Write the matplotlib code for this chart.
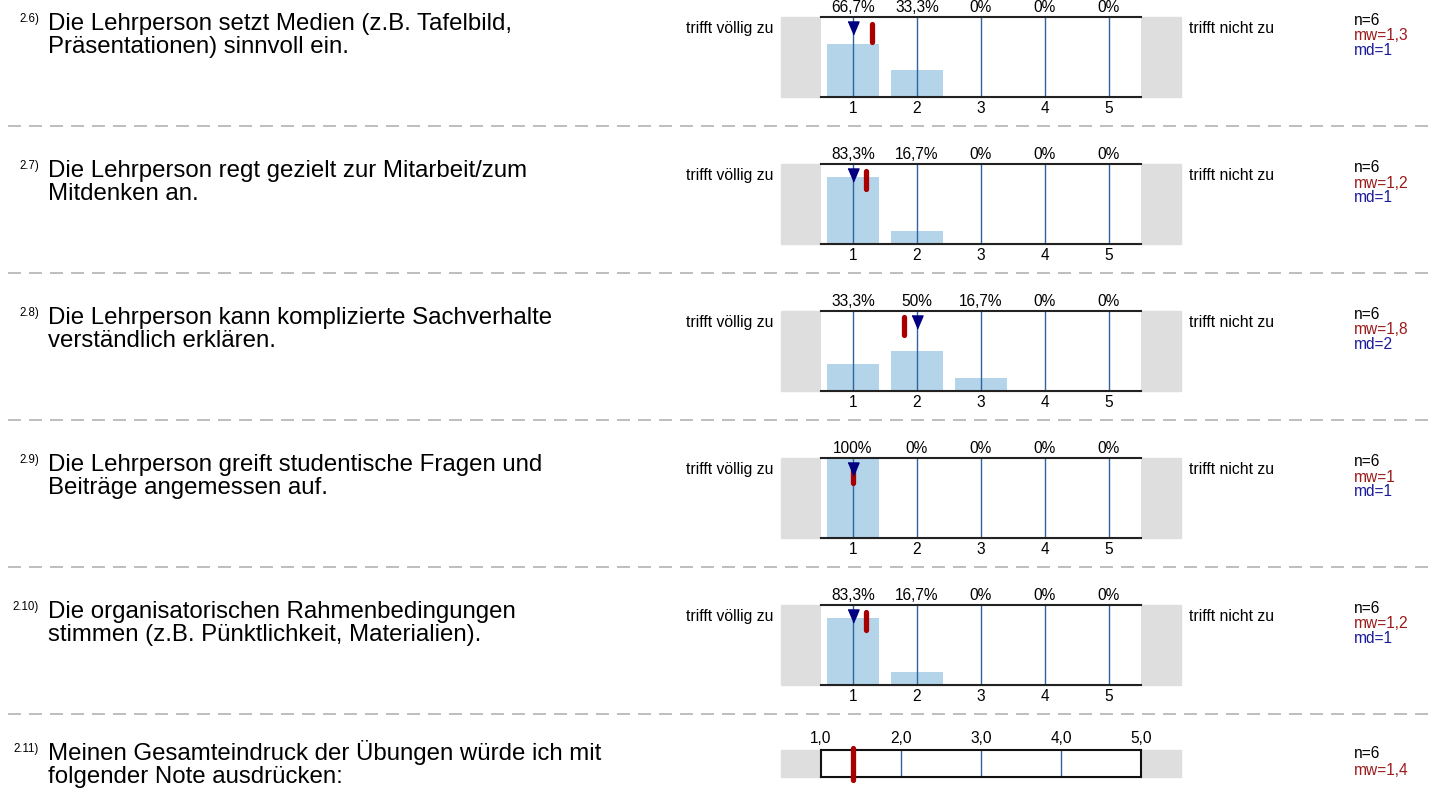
import matplotlib.pyplot as plt
from matplotlib.patches import Rectangle
from matplotlib.lines import Line2D

plt.rcParams['font.family'] = ['Liberation Sans', 'DejaVu Sans']

# survey items (scale 1 = trifft völlig zu ... 5 = trifft nicht zu)
item_numbers = ['2.6)', '2.7)', '2.8)', '2.9)', '2.10)']
item_texts = [
    'Die Lehrperson setzt Medien (z.B. Tafelbild,\nPräsentationen) sinnvoll ein.',
    'Die Lehrperson regt gezielt zur Mitarbeit/zum\nMitdenken an.',
    'Die Lehrperson kann komplizierte Sachverhalte\nverständlich erklären.',
    'Die Lehrperson greift studentische Fragen und\nBeiträge angemessen auf.',
    'Die organisatorischen Rahmenbedingungen\nstimmen (z.B. Pünktlichkeit, Materialien).',
]
scale_points = [1, 2, 3, 4, 5]
percentages = [
    [66.7, 33.3, 0, 0, 0],
    [83.3, 16.7, 0, 0, 0],
    [33.3, 50, 16.7, 0, 0],
    [100, 0, 0, 0, 0],
    [83.3, 16.7, 0, 0, 0],
]
n_values = [6, 6, 6, 6, 6]
means = [1.3, 1.2, 1.8, 1.0, 1.2]
medians = [1, 1, 2, 1, 1]
left_label = 'trifft völlig zu'
right_label = 'trifft nicht zu'

# overall grade item
grade_number = '2.11)'
grade_text = 'Meinen Gesamteindruck der Übungen würde ich mit\nfolgender Note ausdrücken:'
grade_ticks = [1.0, 2.0, 3.0, 4.0, 5.0]
grade_n = 6
grade_mean = 1.4

# colours
BAR = '#b4d4ea'
GRID = '#2f63a0'
GRAY = '#dedede'
RED = '#a80000'
NAVY = '#000080'
MW_COL = '#9b1b1b'
MD_COL = '#1b1b9b'

W, H = 1431, 796
fig = plt.figure(figsize=(W / 100, H / 100), dpi=100)


def fx(x):
    return x / W


def fy(y):
    return 1 - y / H


def px_rect(x0, y0, x1, y1):
    return [x0 / W, 1 - y1 / H, (x1 - x0) / W, (y1 - y0) / H]


def comma(v):
    return f'{v:g}'.replace('.', ',')


def question(top, number, text, first=13):
    fig.text(fx(39), fy(top + first - 8), number, ha='right', va='baseline', fontsize=8.3)
    for k, line in enumerate(text.split('\n')):
        fig.text(fx(48), fy(top + first + 23 * k), line, ha='left', va='baseline', fontsize=17.3)


def separator(y):
    fig.add_artist(Line2D([fx(8), 1], [fy(y), fy(y)], transform=fig.transFigure,
                          color='#b3b3b3', lw=1.2, dashes=(7.8, 4.8)))


PLOT_H = 80
for i in range(len(item_texts)):
    top = 17 + 147 * i
    bottom = top + PLOT_H
    fig.add_artist(Rectangle((fx(781), fy(bottom)), 400 / W, PLOT_H / H,
                             transform=fig.transFigure, color=GRAY, zorder=-1))
    ax = fig.add_axes(px_rect(821, top, 1141, bottom))
    ax.set_facecolor('white')
    ax.set_xlim(0.5, 5.5)
    ax.set_ylim(0, 1)
    ax.bar(scale_points, [p / 100 for p in percentages[i]], width=0.8, color=BAR, zorder=1)
    ax.vlines(scale_points, 0, 1, color=GRID, lw=1, zorder=2)
    for s in ['left', 'right']:
        ax.spines[s].set_visible(False)
    for s in ['top', 'bottom']:
        ax.spines[s].set_color('#222222')
        ax.spines[s].set_linewidth(1.5)
    ax.set_yticks([])
    ax.set_xticks(scale_points)
    ax.tick_params(axis='x', length=0, pad=3, labelsize=11.2)
    for x, p in zip(scale_points, percentages[i]):
        ax.annotate(comma(p) + '%', xy=(x, 1), xycoords=('data', 'axes fraction'),
                    xytext=(0, 3.6), textcoords='offset points',
                    ha='center', va='baseline', fontsize=11.2)
    # mean (red bar) and median (triangle)
    ax.plot([means[i], means[i]], [1 - 6.5 / PLOT_H, 1 - 24.5 / PLOT_H], color=RED,
            lw=3.8, solid_capstyle='round', zorder=3)
    ax.plot(medians[i], 1 - 10.8 / PLOT_H, marker=[(-5.5, 6.5), (5.5, 6.5), (0, -6.5)],
            markersize=9.4, color=NAVY, zorder=4)

    fig.text(fx(773), fy(top + 16), left_label, ha='right', va='baseline', fontsize=11.3)
    fig.text(fx(1189), fy(top + 16), right_label, ha='left', va='baseline', fontsize=11.3)
    fig.text(fx(1354), fy(top + 8), f'n={n_values[i]}', va='baseline', fontsize=11.2)
    fig.text(fx(1354), fy(top + 23.5), f'mw={comma(means[i])}', va='baseline', fontsize=11.2, color=MW_COL)
    fig.text(fx(1354), fy(top + 38), f'md={comma(medians[i])}', va='baseline', fontsize=11.2, color=MD_COL)

    question(top, item_numbers[i], item_texts[i])
    separator(top + 109)

# overall grade
gtop, gbottom = 750, 777
fig.add_artist(Rectangle((fx(781), fy(gbottom)), 400 / W, (gbottom - gtop) / H,
                         transform=fig.transFigure, color=GRAY, zorder=-1))
gax = fig.add_axes(px_rect(821, gtop, 1141, gbottom))
gax.set_facecolor('white')
gax.set_xlim(grade_ticks[0], grade_ticks[-1])
gax.set_ylim(0, 1)
gax.vlines(grade_ticks[1:-1], 0, 1, color=GRID, lw=1)
for s in gax.spines.values():
    s.set_color('#111111')
    s.set_linewidth(1.5)
gax.set_yticks([])
gax.xaxis.tick_top()
gax.set_xticks(grade_ticks)
gax.set_xticklabels([f'{t:.1f}'.replace('.', ',') for t in grade_ticks])
gax.tick_params(axis='x', length=0, pad=3, labelsize=11.2)
gax.plot([grade_mean, grade_mean], [1.056, -0.093], color=RED, lw=3.8,
         solid_capstyle='round', clip_on=False, zorder=3)
fig.text(fx(1354), fy(758), f'n={grade_n}', va='baseline', fontsize=11.2)
fig.text(fx(1354), fy(775), f'mw={comma(grade_mean)}', va='baseline', fontsize=11.2, color=MW_COL)
question(gtop, grade_number, grade_text, first=10)

fig.savefig('out.png', dpi=100)
